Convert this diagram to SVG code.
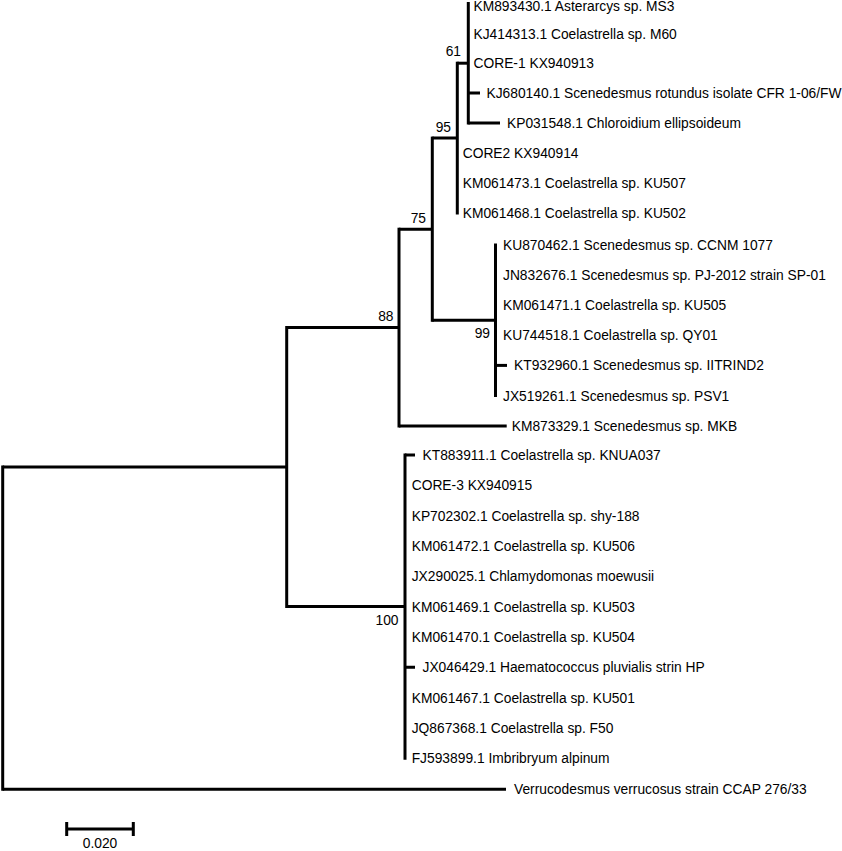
<svg xmlns="http://www.w3.org/2000/svg" width="842" height="851" viewBox="0 0 842 851">
<style>
.br{stroke:#000;stroke-width:3;fill:none;stroke-linecap:butt}
.vt{stroke:#000;stroke-width:3;fill:none;stroke-linecap:square}
text{font-family:"Liberation Sans",Arial,sans-serif;font-size:13.8px;fill:#000}
.bs{text-anchor:end}
</style>
<rect width="842" height="851" fill="#fff"/>
<g id="connectors">
<path class="vt" d="M2.7 467.1V789.3"/>
<path class="br" d="M2.7 467.1H286.7M2.7 789.3H506"/>
<path class="vt" d="M286.7 327.6V606.6"/>
<path class="br" d="M286.7 327.6H399M286.7 606.6H405"/>
<path class="vt" d="M399 229.2V426"/>
<path class="br" d="M399 229.2H432.3M399 426H506.7"/>
<path class="vt" d="M432.3 138.1V320.3"/>
<path class="br" d="M432.3 138.1H457.3M432.3 320.3H495.5"/>
<path class="vt" d="M457.3 63.2V213"/>
<path class="br" d="M457.3 63.2H468.3"/>
<path class="vt" d="M468.3 3.5V123"/>
<path class="br" d="M468.3 93H480M468.3 123H500"/>
<path class="vt" d="M495.5 245V395.5"/>
<path class="br" d="M495.5 365.4H507"/>
<path class="vt" d="M405 455V758.3"/>
<path class="br" d="M405 455H415M405 667.3H415"/>
</g>
<g id="node-61"><text class="bs" x="461" y="56">61</text></g>
<g id="node-95"><text class="bs" x="451" y="132">95</text></g>
<g id="node-75"><text class="bs" x="426" y="223">75</text></g>
<g id="node-88"><text class="bs" x="393.5" y="321">88</text></g>
<g id="node-99"><text class="bs" x="490" y="337.5">99</text></g>
<g id="node-100"><text class="bs" x="398.5" y="625">100</text></g>
<g id="leaf-KM893430"><text x="473.5" y="10.5">KM893430.1 Asterarcys sp. MS3</text></g>
<g id="leaf-KJ414313"><text x="473.5" y="38.5">KJ414313.1 Coelastrella sp. M60</text></g>
<g id="leaf-CORE-1"><text x="473.5" y="68">CORE-1 KX940913</text></g>
<g id="leaf-KJ680140"><text x="486.5" y="98">KJ680140.1 Scenedesmus rotundus isolate CFR 1-06/FW</text></g>
<g id="leaf-KP031548"><text x="507" y="128">KP031548.1 Chloroidium ellipsoideum</text></g>
<g id="leaf-CORE2"><text x="462.7" y="158">CORE2 KX940914</text></g>
<g id="leaf-KM061473"><text x="462.7" y="188">KM061473.1 Coelastrella sp. KU507</text></g>
<g id="leaf-KM061468"><text x="462.7" y="218">KM061468.1 Coelastrella sp. KU502</text></g>
<g id="leaf-KU870462"><text x="503" y="250">KU870462.1 Scenedesmus sp. CCNM 1077</text></g>
<g id="leaf-JN832676"><text x="503" y="280.1">JN832676.1 Scenedesmus sp. PJ-2012 strain SP-01</text></g>
<g id="leaf-KM061471"><text x="503" y="310.2">KM061471.1 Coelastrella sp. KU505</text></g>
<g id="leaf-KU744518"><text x="503" y="340.3">KU744518.1 Coelastrella sp. QY01</text></g>
<g id="leaf-KT932960"><text x="514" y="370.4">KT932960.1 Scenedesmus sp. IITRIND2</text></g>
<g id="leaf-JX519261"><text x="503" y="400.5">JX519261.1 Scenedesmus sp. PSV1</text></g>
<g id="leaf-KM873329"><text x="511.7" y="431">KM873329.1 Scenedesmus sp. MKB</text></g>
<g id="leaf-KT883911"><text x="422.5" y="460">KT883911.1 Coelastrella sp. KNUA037</text></g>
<g id="leaf-CORE-3"><text x="411.7" y="490.3">CORE-3 KX940915</text></g>
<g id="leaf-KP702302"><text x="411.7" y="520.7">KP702302.1 Coelastrella sp. shy-188</text></g>
<g id="leaf-KM061472"><text x="411.7" y="551">KM061472.1 Coelastrella sp. KU506</text></g>
<g id="leaf-JX290025"><text x="411.7" y="581.3">JX290025.1 Chlamydomonas moewusii</text></g>
<g id="leaf-KM061469"><text x="411.7" y="611.6">KM061469.1 Coelastrella sp. KU503</text></g>
<g id="leaf-KM061470"><text x="411.7" y="642">KM061470.1 Coelastrella sp. KU504</text></g>
<g id="leaf-JX046429"><text x="422.5" y="672.3">JX046429.1 Haematococcus pluvialis strin HP</text></g>
<g id="leaf-KM061467"><text x="411.7" y="702.7">KM061467.1 Coelastrella sp. KU501</text></g>
<g id="leaf-JQ867368"><text x="411.7" y="733">JQ867368.1 Coelastrella sp. F50</text></g>
<g id="leaf-FJ593899"><text x="411.7" y="763.3">FJ593899.1 Imbribryum alpinum</text></g>
<g id="leaf-Verrucodesmus"><text x="514" y="794.3">Verrucodesmus verrucosus strain CCAP 276/33</text></g>
<g id="scale-bar">
<path class="br" d="M66.7 829H133.3M66.7 822V836M133.3 822V836"/>
<text x="100" y="848" text-anchor="middle">0.020</text>
</g>
</svg>
